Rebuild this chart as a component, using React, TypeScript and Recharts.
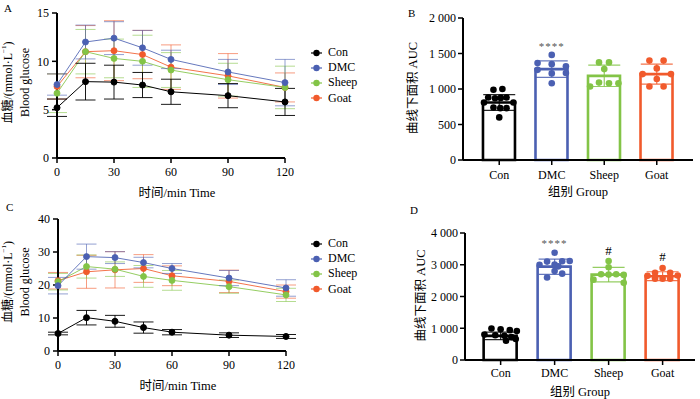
import React from 'react';
import { LineChart, Line, XAxis, YAxis, ErrorBar, Legend, ComposedChart, Bar, Cell, Scatter } from 'recharts';

const FONT = '"Liberation Serif", "Times New Roman", "Noto Sans CJK SC", serif';

// ---------- shared ----------
const seriesNames = ['Con', 'DMC', 'Sheep', 'Goat'];
const seriesKeys = ['con', 'dmc', 'sheep', 'goat'];
const seriesColors = ['#000000', '#4b60b2', '#83c447', '#f15a2c'];
const times = [0, 15, 30, 45, 60, 90, 120];
const timeTicks = [0, 30, 60, 90, 120];

// ---------- Panel A (glucose, 0-15) ----------
const conA = [5.2, 7.9, 7.85, 7.55, 6.85, 6.45, 5.8];
const conAErr = [0.9, 1.9, 1.75, 1.3, 1.3, 1.25, 1.4];
const dmcA = [7.6, 12.0, 12.4, 11.4, 10.2, 8.9, 7.8];
const dmcAErr = [1.1, 1.75, 1.7, 1.8, 0.95, 1.3, 2.4];
const sheepA = [6.7, 11.0, 10.3, 10.0, 9.1, 8.1, 7.3];
const sheepAErr = [2.0, 2.3, 2.0, 2.7, 1.8, 1.7, 2.2];
const goatA = [7.4, 11.0, 11.1, 10.7, 9.4, 8.5, 7.3];
const goatAErr = [1.3, 2.7, 3.1, 2.5, 2.3, 2.3, 1.5];
const yTicksA = [0, 5, 10, 15];

// ---------- Panel C (glucose, 0-40) ----------
const conC = [5.3, 10.1, 9.0, 7.1, 5.7, 4.8, 4.4];
const conCErr = [0.4, 2.2, 1.8, 1.7, 0.8, 0.7, 0.6];
const dmcC = [19.8, 28.6, 28.3, 26.8, 25.0, 22.1, 19.1];
const dmcCErr = [2.5, 3.8, 1.8, 1.6, 1.5, 2.3, 2.5];
const sheepC = [21.0, 25.6, 24.8, 22.6, 21.4, 19.5, 17.0];
const sheepCErr = [2.5, 3.5, 2.2, 3.3, 3.0, 2.0, 2.0];
const goatC = [21.3, 24.0, 24.6, 25.0, 22.8, 21.1, 18.0];
const goatCErr = [2.5, 5.0, 5.5, 4.2, 3.0, 3.4, 2.0];
const yTicksC = [0, 10, 20, 30, 40];

// ---------- Panel B (AUC, 0-2000) ----------
const aucBMean = [810, 1280, 1185, 1210];
const aucBSd = [110, 115, 150, 140];
const aucBConPts = [990, 1000, 880, 870, 875, 880, 810, 810, 740, 730, 730, 600];
const aucBConOff = [-0.11, 0.06, -0.21, -0.08, 0.03, 0.14, -0.29, 0.27, -0.11, 0.02, 0.14, 0];
const aucBDmcPts = [1480, 1365, 1350, 1320, 1270, 1220, 1225, 1080];
const aucBDmcOff = [0, -0.27, 0, 0.27, -0.27, 0, 0.27, 0];
const aucBSheepPts = [1375, 1375, 1280, 1035, 1090, 1080, 1080];
const aucBSheepOff = [-0.1, 0.09, 0, -0.27, -0.1, 0.09, 0.27];
const aucBGoatPts = [1400, 1400, 1290, 1210, 1210, 1140, 1035, 1035];
const aucBGoatOff = [-0.14, 0.13, 0, -0.27, 0.27, 0, -0.14, 0.13];
const yTicksB = [0, 500, 1000, 1500, 2000];
const marksB = [{ x: 1, y: 1610, text: '****' }];

// ---------- Panel D (AUC, 0-4000) ----------
const aucDMean = [760, 2940, 2690, 2640];
const aucDSd = [120, 240, 230, 140];
const aucDConPts = [990, 970, 940, 910, 800, 780, 760, 720, 660, 610];
const aucDConOff = [-0.17, 0, 0.17, 0.3, -0.3, -0.1, 0.07, 0.2, 0.28, 0.1];
const aucDDmcPts = [3376, 3100, 3110, 3120, 3000, 3010, 2950, 2800, 2720, 2600];
const aucDDmcOff = [0, -0.14, 0.14, 0.28, -0.28, 0, 0.07, 0, 0.14, -0.14];
const aucDSheepPts = [3120, 2920, 2700, 2690, 2700, 2680, 2530, 2430];
const aucDSheepOff = [0, 0, -0.14, 0, 0.14, 0.28, -0.28, 0.28];
const aucDGoatPts = [2900, 2750, 2750, 2650, 2660, 2560, 2560, 2560];
const aucDGoatOff = [0, -0.14, 0.14, -0.28, 0.28, -0.14, 0, 0.14];
const yTicksD = [0, 1000, 2000, 3000, 4000];
const marksD = [
  { x: 1, y: 3680, text: '****' },
  { x: 2, y: 3460, text: '#' },
  { x: 3, y: 3270, text: '#' },
];

// ---------- helpers ----------
function buildRows(vals: number[][], errs: number[][]) {
  return times.map((t, i) => {
    const row: any = { t };
    seriesKeys.forEach((k, s) => {
      row[k] = vals[s][i];
      row[k + 'Err'] = errs[s][i];
    });
    return row;
  });
}

const rowsA = buildRows([conA, dmcA, sheepA, goatA], [conAErr, dmcAErr, sheepAErr, goatAErr]);
const rowsC = buildRows([conC, dmcC, sheepC, goatC], [conCErr, dmcCErr, sheepCErr, goatCErr]);

const fmtThousands = (v: number) =>
  v >= 1000 ? `${Math.floor(v / 1000)} ${String(v % 1000).padStart(3, '0')}` : String(v);

const tickStyle = { fontSize: 12, fill: '#000', fontFamily: FONT };

const LegendBox = () => (
  <div style={{ fontFamily: FONT, fontSize: 12, color: '#000' }}>
    {seriesNames.map((n, i) => (
      <div key={n} style={{ display: 'flex', alignItems: 'center', height: 15.2 }}>
        <svg width={12} height={8} style={{ display: 'block' }}>
          <line x1={0} y1={4} x2={11} y2={4} stroke={seriesColors[i]} strokeWidth={1.2} />
          <circle cx={5.5} cy={4} r={3.2} fill={seriesColors[i]} />
        </svg>
        <span style={{ marginLeft: 5, lineHeight: '15px' }}>{n}</span>
      </div>
    ))}
  </div>
);

const glucoseYLabel = (props: any) => {
  const vb = props.viewBox || { x: 0, y: 0, width: 0, height: 0 };
  const cy = vb.y + vb.height / 2 - 3;
  const x1 = vb.x + 8;
  const x2 = vb.x + 25;
  return (
    <g fontFamily={FONT} fontSize={12} fill="#000">
      <text x={x1} y={cy} transform={`rotate(-90 ${x1} ${cy})`} textAnchor="middle" dominantBaseline="central">
        血糖/(mmol·L<tspan dy={-4} fontSize={7}>−1</tspan><tspan dy={4}>)</tspan>
      </text>
      <text x={x2} y={cy} transform={`rotate(-90 ${x2} ${cy})`} textAnchor="middle" dominantBaseline="central">
        Blood glucose
      </text>
    </g>
  );
};

const aucYLabel = (dx: number) => (props: any) => {
  const vb = props.viewBox || { x: 0, y: 0, width: 0, height: 0 };
  const cy = vb.y + vb.height / 2 - 1;
  const x = vb.x + dx;
  return (
    <text x={x} y={cy} transform={`rotate(-90 ${x} ${cy})`} textAnchor="middle" dominantBaseline="central"
      fontFamily={FONT} fontSize={12.5} fill="#000">
      曲线下面积 AUC
    </text>
  );
};

type GlucoseProps = {
  rows: any[];
  yMax: number;
  yTicks: number[];
  height: number;
  margin: { top: number; right: number; left: number; bottom: number };
  yWidth: number;
  legendTop: number;
};

function GlucoseChart({ rows, yMax, yTicks, height, margin, yWidth, legendTop }: GlucoseProps) {
  const drawOrder = [3, 2, 1, 0];
  return (
    <LineChart width={370} height={height} data={rows} margin={margin}>
      <XAxis
        type="number"
        dataKey="t"
        domain={[0, 120]}
        ticks={timeTicks}
        height={42}
        tick={tickStyle}
        tickSize={5}
        tickMargin={4}
        axisLine={{ stroke: '#000', strokeWidth: 2 }}
        tickLine={{ stroke: '#000', strokeWidth: 1.5 }}
        label={{ value: '时间/min Time', position: 'insideBottom', offset: 3, dx: 6, fontSize: 12.5, fill: '#000', fontFamily: FONT }}
      />
      <YAxis
        type="number"
        domain={[0, yMax]}
        ticks={yTicks}
        width={yWidth}
        tick={tickStyle}
        tickSize={5}
        tickMargin={3}
        axisLine={{ stroke: '#000', strokeWidth: 2 }}
        tickLine={{ stroke: '#000', strokeWidth: 1.5 }}
        label={glucoseYLabel}
      />
      <Legend
        layout="vertical"
        align="center"
        verticalAlign="middle"
        content={LegendBox}
        wrapperStyle={{ left: 311, top: legendTop, width: 60 }}
      />
      {drawOrder.map((s) => (
        <Line
          key={seriesKeys[s]}
          dataKey={seriesKeys[s]}
          name={seriesNames[s]}
          stroke={seriesColors[s]}
          strokeWidth={1}
          strokeOpacity={s === 0 ? 1 : 0.85}
          dot={{ r: 3, fill: seriesColors[s], stroke: seriesColors[s], strokeWidth: 1 }}
          activeDot={false}
          isAnimationActive={false}
        >
          <ErrorBar
            dataKey={seriesKeys[s] + 'Err'}
            direction="y"
            width={10}
            stroke={seriesColors[s]}
            strokeOpacity={s === 0 ? 0.9 : 0.6}
            strokeWidth={1}
          />
        </Line>
      ))}
    </LineChart>
  );
}

type AucProps = {
  means: number[];
  sds: number[];
  pts: number[][];
  offs: number[][];
  marks: { x: number; y: number; text: string }[];
  yMax: number;
  yTicks: number[];
  domain: [number, number];
  height: number;
  margin: { top: number; right: number; left: number; bottom: number };
  xHeight: number;
  xTickMargin: number;
  xTitleOffset: number;
  barSize: number;
  titleDx: number;
};

function AucChart({ means, sds, pts, offs, marks, yMax, yTicks, domain, height, margin, xHeight, xTickMargin, xTitleOffset, barSize, titleDx }: AucProps) {
  const rows = seriesNames.map((n, i) => ({ x: i, mean: means[i] }));
  return (
    <ComposedChart width={350} height={height} data={rows} margin={margin}>
      <XAxis
        xAxisId="cat"
        type="number"
        dataKey="x"
        domain={domain}
        allowDataOverflow
        ticks={[0, 1, 2, 3]}
        tickFormatter={(v: number) => seriesNames[v] ?? ''}
        height={xHeight}
        tick={tickStyle}
        tickSize={5}
        tickMargin={xTickMargin}
        axisLine={{ stroke: '#000', strokeWidth: 2 }}
        tickLine={{ stroke: '#000', strokeWidth: 1.5 }}
        label={{ value: '组别 Group', position: 'insideBottom', offset: xTitleOffset, fontSize: 12.5, fill: '#000', fontFamily: FONT }}
      />
      <XAxis xAxisId="pts" type="number" dataKey="x" domain={domain} allowDataOverflow hide />
      <YAxis
        type="number"
        domain={[0, yMax]}
        ticks={yTicks}
        width={50}
        tick={tickStyle}
        tickSize={5}
        tickMargin={2}
        tickFormatter={fmtThousands}
        axisLine={{ stroke: '#000', strokeWidth: 2 }}
        tickLine={{ stroke: '#000', strokeWidth: 1.5 }}
        label={aucYLabel(titleDx)}
      />
      <Bar xAxisId="cat" dataKey="mean" barSize={barSize} fill="#ffffff" strokeWidth={2.6} isAnimationActive={false}>
        {rows.map((r, i) => (
          <Cell key={i} stroke={seriesColors[i]} fill="#ffffff" />
        ))}
      </Bar>
      {seriesNames.map((n, i) => (
        <Scatter
          key={'pts' + n}
          xAxisId="pts"
          data={pts[i].map((v, j) => ({ x: i + offs[i][j], y: v }))}
          dataKey="y"
          isAnimationActive={false}
          shape={(p: any) => <circle cx={p.cx} cy={p.cy} r={3.3} fill={seriesColors[i]} />}
        />
      ))}
      {seriesNames.map((n, i) => (
        <Scatter
          key={'err' + n}
          xAxisId="pts"
          data={[{ x: i, y: means[i], sd: sds[i] }]}
          dataKey="y"
          isAnimationActive={false}
          shape={() => <g />}
        >
          <ErrorBar dataKey="sd" direction="y" width={16} stroke={seriesColors[i]} strokeWidth={1.2} strokeOpacity={0.85} />
        </Scatter>
      ))}
      <Scatter
        xAxisId="pts"
        data={marks}
        dataKey="y"
        isAnimationActive={false}
        shape={(p: any) => (
          <text
            x={p.cx}
            y={p.cy}
            textAnchor="middle"
            dominantBaseline="central"
            fontFamily={FONT}
            fontSize={p.payload.text === '#' ? 13 : 11}
            letterSpacing={p.payload.text === '#' ? 0 : 1}
            fill={p.payload.text === '#' ? '#000' : '#555'}
          >
            {p.payload.text}
          </text>
        )}
      />
    </ComposedChart>
  );
}

const panelLetter = (t: string, x: number, y: number) => (
  <div style={{ position: 'absolute', left: x, top: y, fontFamily: FONT, fontSize: 11, lineHeight: '11px', color: '#000' }}>{t}</div>
);

export default function App() {
  return (
    <div style={{ position: 'absolute', left: 0, top: 0, width: 700, height: 399, background: '#fff', overflow: 'hidden' }}>
      <div style={{ position: 'absolute', left: 0, top: 0 }}>
        <GlucoseChart rows={rowsA} yMax={15} yTicks={yTicksA} height={200}
          margin={{ top: 13, right: 85, left: 0, bottom: 0 }} yWidth={57} legendTop={45} />
      </div>
      <div style={{ position: 'absolute', left: 0, top: 200 }}>
        <GlucoseChart rows={rowsC} yMax={40} yTicks={yTicksC} height={199}
          margin={{ top: 19, right: 84, left: 0, bottom: 6 }} yWidth={58} legendTop={36} />
      </div>
      <div style={{ position: 'absolute', left: 350, top: 0 }}>
        <AucChart means={aucBMean} sds={aucBSd}
          pts={[aucBConPts, aucBDmcPts, aucBSheepPts, aucBGoatPts]}
          offs={[aucBConOff, aucBDmcOff, aucBSheepOff, aucBGoatOff]}
          marks={marksB} yMax={2000} yTicks={yTicksB} domain={[-0.69, 3.69]} height={200}
          margin={{ top: 18, right: 7, left: 63, bottom: 0 }} xHeight={40} xTickMargin={5} xTitleOffset={4}
          barSize={32} titleDx={0} />
      </div>
      <div style={{ position: 'absolute', left: 350, top: 200 }}>
        <AucChart means={aucDMean} sds={aucDSd}
          pts={[aucDConPts, aucDDmcPts, aucDSheepPts, aucDGoatPts]}
          offs={[aucDConOff, aucDDmcOff, aucDSheepOff, aucDGoatOff]}
          marks={marksD} yMax={4000} yTicks={yTicksD} domain={[-0.66, 3.6]} height={199}
          margin={{ top: 33, right: 5, left: 65, bottom: 0 }} xHeight={39} xTickMargin={3} xTitleOffset={3}
          barSize={33} titleDx={6} />
      </div>
      {panelLetter('A', 4, 3)}
      {panelLetter('B', 408, 8)}
      {panelLetter('C', 6, 202)}
      {panelLetter('D', 410, 205)}
    </div>
  );
}
